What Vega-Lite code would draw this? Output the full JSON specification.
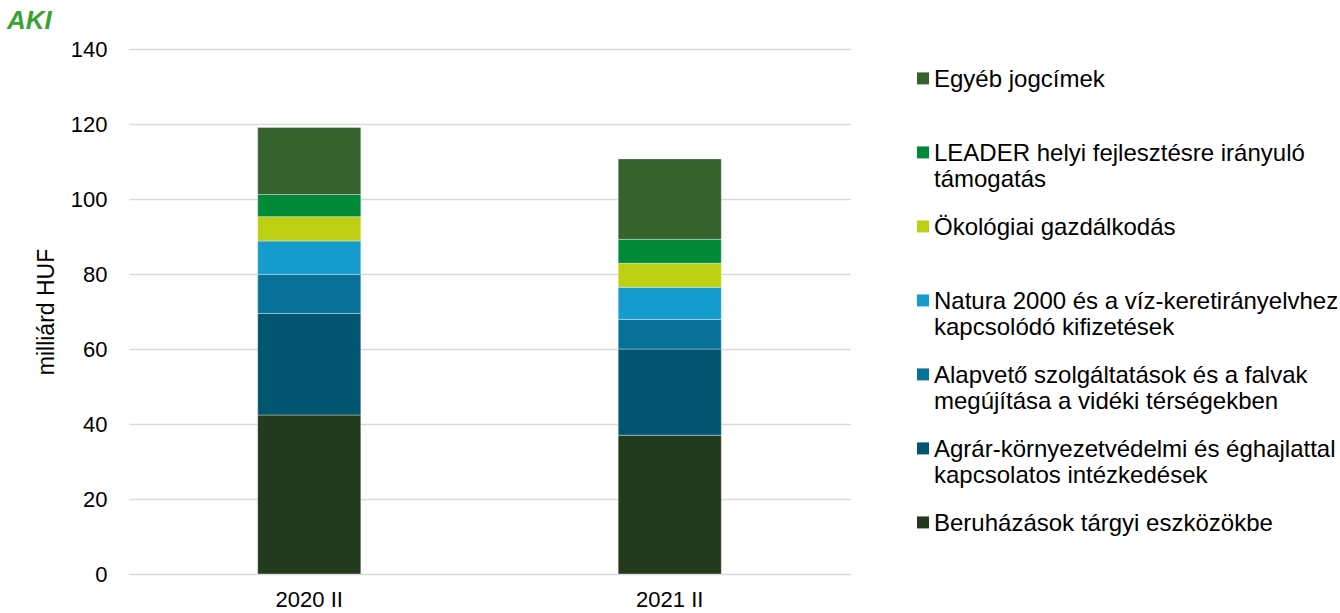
{
  "$schema": "https://vega.github.io/schema/vega-lite/v6.json",
  "autosize": "none",
  "width": 721,
  "height": 525,
  "padding": {"left": 129, "top": 49, "right": 490, "bottom": 39},
  "background": "white",
  "title": {"text": "AKI", "anchor": "start", "frame": "group", "dx": -122, "dy": 0, "offset": 4, "fontSize": 26, "fontWeight": "bold", "fontStyle": "italic", "color": "#3aa335", "font": "Liberation Sans"},
  "config": {
    "font": "Liberation Sans",
    "view": {"stroke": null}
  },
  "data": {"values": [
    {"period": "2020 II", "cat": "Beruházások tárgyi eszközökbe", "idx": 1, "value": 42.4},
    {"period": "2020 II", "cat": "Agrár-környezetvédelmi és éghajlattal kapcsolatos intézkedések", "idx": 2, "value": 27.1},
    {"period": "2020 II", "cat": "Alapvető szolgáltatások és a falvak megújítása a vidéki térségekben", "idx": 3, "value": 10.4},
    {"period": "2020 II", "cat": "Natura 2000 és a víz-keretirányelvhez kapcsolódó kifizetések", "idx": 4, "value": 8.9},
    {"period": "2020 II", "cat": "Ökológiai gazdálkodás", "idx": 5, "value": 6.5},
    {"period": "2020 II", "cat": "LEADER helyi fejlesztésre irányuló támogatás", "idx": 6, "value": 5.9},
    {"period": "2020 II", "cat": "Egyéb jogcímek", "idx": 7, "value": 17.9},
    {"period": "2021 II", "cat": "Beruházások tárgyi eszközökbe", "idx": 1, "value": 37.0},
    {"period": "2021 II", "cat": "Agrár-környezetvédelmi és éghajlattal kapcsolatos intézkedések", "idx": 2, "value": 23.0},
    {"period": "2021 II", "cat": "Alapvető szolgáltatások és a falvak megújítása a vidéki térségekben", "idx": 3, "value": 7.9},
    {"period": "2021 II", "cat": "Natura 2000 és a víz-keretirányelvhez kapcsolódó kifizetések", "idx": 4, "value": 8.55},
    {"period": "2021 II", "cat": "Ökológiai gazdálkodás", "idx": 5, "value": 6.4},
    {"period": "2021 II", "cat": "LEADER helyi fejlesztésre irányuló támogatás", "idx": 6, "value": 6.4},
    {"period": "2021 II", "cat": "Egyéb jogcímek", "idx": 7, "value": 21.45}
  ]},
  "mark": {"type": "bar", "stroke": "#ffffff", "strokeWidth": 0.6, "strokeOpacity": 0.6},
  "encoding": {
    "x": {
      "field": "period", "type": "nominal",
      "scale": {"paddingInner": 0.714, "paddingOuter": 0.357},
      "axis": {"title": null, "labelAngle": 0, "labelFontSize": 22, "labelColor": "#000000", "labelPadding": 15, "ticks": false, "domain": false}
    },
    "y": {
      "field": "value", "type": "quantitative", "stack": "zero",
      "scale": {"domain": [0, 140]},
      "axis": {"title": "milliárd HUF", "titleFontSize": 23, "titleFontWeight": "normal", "titleColor": "#000000", "titlePadding": 12,
               "values": [0, 20, 40, 60, 80, 100, 120, 140], "labelFontSize": 22, "labelColor": "#000000", "labelPadding": 22,
               "ticks": false, "domain": false, "gridColor": "#d9d9d9", "gridWidth": 1.5}
    },
    "order": {"field": "idx", "type": "quantitative", "sort": "ascending"},
    "color": {
      "field": "cat", "type": "nominal",
      "scale": {
        "domain": ["Egyéb jogcímek", "LEADER helyi fejlesztésre irányuló támogatás", "Ökológiai gazdálkodás", "Natura 2000 és a víz-keretirányelvhez kapcsolódó kifizetések", "Alapvető szolgáltatások és a falvak megújítása a vidéki térségekben", "Agrár-környezetvédelmi és éghajlattal kapcsolatos intézkedések", "Beruházások tárgyi eszközökbe"],
        "range": ["#36622e", "#008a38", "#bccf12", "#159ccc", "#077199", "#03566f", "#233a1f"]
      },
      "legend": {
        "title": null, "orient": "none", "legendX": 782, "legendY": 26,
        "padding": 0, "symbolType": "M-1,-2.43H1V-0.43H-1Z", "symbolSize": 144, "symbolOffset": 0, "symbolStrokeWidth": 0,
        "labelFontSize": 24, "labelColor": "#000000", "labelLimit": 600, "labelOffset": -1,
        "labelBaseline": "alphabetic", "rowPadding": 24,
        "labelExpr": "datum.label == 'LEADER helyi fejlesztésre irányuló támogatás' ? ['LEADER helyi fejlesztésre irányuló', 'támogatás'] : datum.label == 'Natura 2000 és a víz-keretirányelvhez kapcsolódó kifizetések' ? ['Natura 2000 és a víz-keretirányelvhez', 'kapcsolódó kifizetések'] : datum.label == 'Alapvető szolgáltatások és a falvak megújítása a vidéki térségekben' ? ['Alapvető szolgáltatások és a falvak', 'megújítása a vidéki térségekben'] : datum.label == 'Agrár-környezetvédelmi és éghajlattal kapcsolatos intézkedések' ? ['Agrár-környezetvédelmi és éghajlattal', 'kapcsolatos intézkedések'] : [datum.label, ' ']",
        "encode": {"labels": {"update": {"lineHeight": {"value": 26.7}}}}
      }
    }
  }
}
